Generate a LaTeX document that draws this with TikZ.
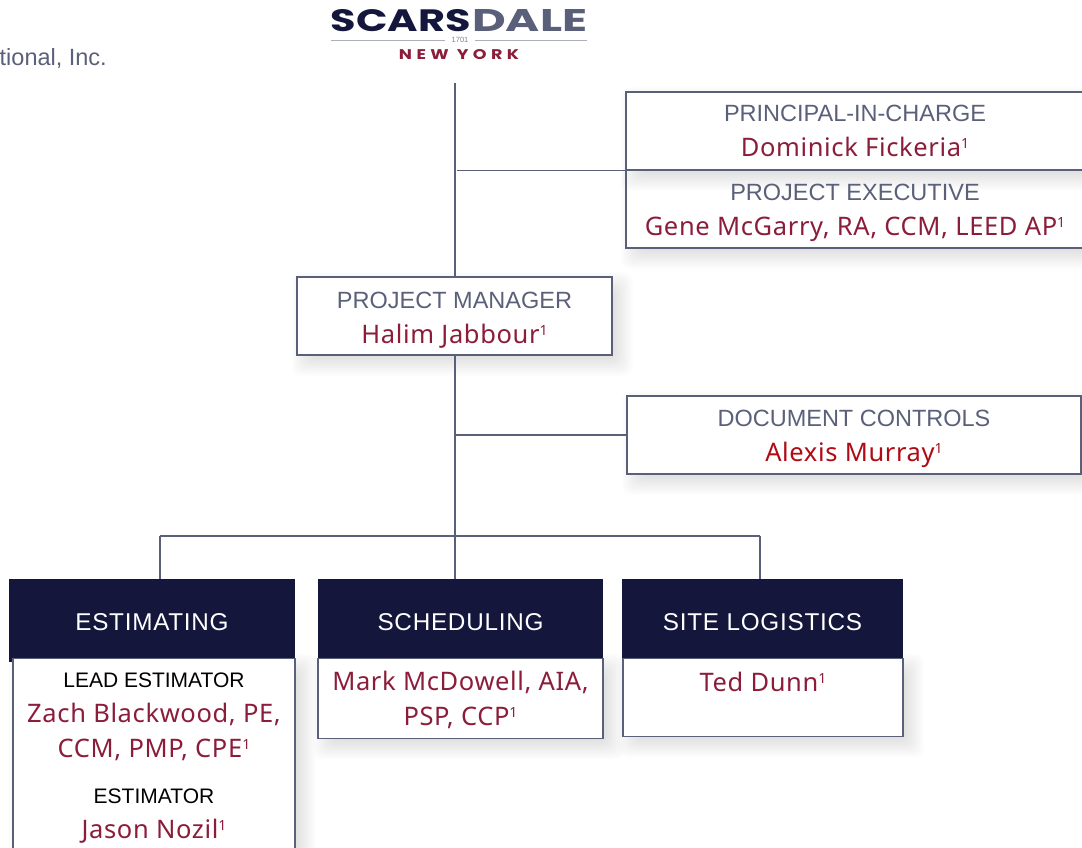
\documentclass[tikz,border=0pt]{standalone}
\usepackage{fontspec}
\usepackage{graphicx}
\setmainfont{Liberation Sans}
\newfontfamily\logofont{Poppins}[UprightFont=* Bold]
\newfontfamily\namefont{Noto Sans}[LetterSpace=2.5]
\usetikzlibrary{backgrounds,calc}
\definecolor{navy}{HTML}{14163C}
\definecolor{slate}{HTML}{5A6079}
\definecolor{wine}{HTML}{8C1D3A}
\definecolor{alert}{HTML}{B00A14}
\newcommand{\rolename}[1]{{\fontsize{23.5}{35}\selectfont\color{slate}#1}}
\newcommand{\subrole}[1]{{\fontsize{21}{35}\selectfont\color{black}#1}}
\newcommand{\who}[1]{{\namefont\fontsize{25.5}{35}\selectfont\color{wine}#1}}
\newcommand{\noteone}{\raisebox{8pt}{\fontsize{14}{14}\selectfont 1}}
\newcommand{\lift}[1]{\rule{0pt}{#1pt}}
\newcommand{\softshadow}[1]{
\foreach \r in {-12,-10,...,12}
\fill [black, opacity=0.01, rounded corners=8pt] ($(#1.north west)+(8-\r,8-\r)$) rectangle ($(#1.south east)+(8+\r,8+\r)$);
}
\tikzset{
box/.style={draw=slate, line width=1.1pt, inner sep=0pt, align=center, font=\fontsize{25}{35}\selectfont},
whitebox/.style={box, fill=white},
headbox/.style={fill=navy, text=white, inner sep=0pt, text height=51pt, font=\fontsize{24.3}{34}\addfontfeature{LetterSpace=3}\selectfont},
link/.style={draw=slate, line width=1.1pt},
logo/.style={inner sep=0pt}
}
\begin{document}
\begin{tikzpicture}[x=1pt, y=-1pt]
\useasboundingbox (0,0) rectangle (1082,848);
\clip (0,0) rectangle (1082,848);
\node [anchor=east, inner sep=0pt, text=slate, font=\fontsize{23.5}{26}\selectfont] (firm) at (107,58) {tional, Inc.};
\node [logo, anchor=east] (scars) at (471,21) {\resizebox{140pt}{22pt}{\logofont\color{navy}SCARS}};
\node [logo, anchor=west] (dale) at (472,21) {\resizebox{115pt}{22pt}{\logofont\color{slate}DALE}};
\node [logo, minimum width=30pt, text=slate!80, font=\fontsize{7.5}{8}\selectfont] (year) at (460,40) {1701};
\coordinate (ruleL) at (331,40);
\coordinate (ruleR) at (587,40);
\draw [slate!50, line width=0.8pt] (ruleL) -- (year.west);
\draw [slate!50, line width=0.8pt] (year.east) -- (ruleR);
\node [logo] (ny) at (459,54.5) {\resizebox{120pt}{10pt}{\logofont\addfontfeature{LetterSpace=25}\color{wine}NEW YORK}};
\coordinate (top) at (455,83);
\node [whitebox, minimum width=458pt, minimum height=78pt] (principal) at (855,131) {\rolename{PRINCIPAL-IN-CHARGE}\\ \who{Dominick Fickeria\noteone}};
\node [box, minimum width=458pt, minimum height=78pt] (exec) at (855,209) {\lift{25}\rolename{PROJECT EXECUTIVE}\\ \who{Gene McGarry, RA, CCM, LEED AP\noteone}};
\node [whitebox, minimum width=315pt, minimum height=78pt] (pm) at (454.5,316) {\lift{24}\rolename{PROJECT MANAGER}\\ \who{Halim Jabbour\noteone}};
\node [whitebox, minimum width=454pt, minimum height=78pt] (docs) at (854,435) {\lift{24}\rolename{DOCUMENT CONTROLS}\\ {\namefont\fontsize{25.5}{35}\selectfont\color{alert}Alexis Murray\noteone}};
\node [headbox, minimum width=286pt, text depth=32pt, anchor=north] (esthead) at (152,579) {ESTIMATING};
\node [headbox, minimum width=285pt, text depth=28pt, anchor=north] (schedhead) at (460.5,579) {SCHEDULING};
\node [headbox, minimum width=281pt, text depth=28pt, anchor=north] (sitehead) at (762.5,579) {SITE LOGISTICS};
\node [whitebox, minimum width=282pt, minimum height=230pt, anchor=north] (estbody) at (154,658) {\subrole{LEAD ESTIMATOR}\\ \who{Zach Blackwood, PE,}\\ \who{CCM, PMP, CPE\noteone}\\[11pt] \subrole{ESTIMATOR}\\ \who{Jason Nozil\noteone}\\[0pt] ~};
\node [whitebox, minimum width=285pt, minimum height=80pt, anchor=north] (schedbody) at (460.5,658) {\lift{22}\who{Mark McDowell, AIA,}\\ \who{PSP, CCP\noteone}};
\node [whitebox, minimum width=280pt, minimum height=78pt, anchor=north] (sitebody) at (763,658) {\lift{22}\who{Ted Dunn\noteone}\\ ~};
\coordinate (execjoin) at (457,170);
\coordinate (docjoin) at (455,435);
\coordinate (estdrop) at (160,536);
\coordinate (sitedrop) at (760,536);
\draw [link] (top) -- (pm.north -| top);
\draw [link] (execjoin |- principal.south west) -- (principal.south west);
\draw [link] (pm.south -| top) -- (schedhead.north -| top);
\draw [link] (docjoin) -- (docs.west);
\draw [link] (estdrop) -- (sitedrop);
\draw [link] (estdrop) -- (esthead.north -| estdrop);
\draw [link] (sitedrop) -- (sitehead.north -| sitedrop);
\begin{scope}[on background layer]
\softshadow{exec}
\fill [white] (exec.north west) rectangle (exec.south east);
\softshadow{principal}
\softshadow{pm}
\softshadow{docs}
\softshadow{estbody}
\softshadow{schedbody}
\softshadow{sitebody}
\end{scope}
\end{tikzpicture}
\end{document}
